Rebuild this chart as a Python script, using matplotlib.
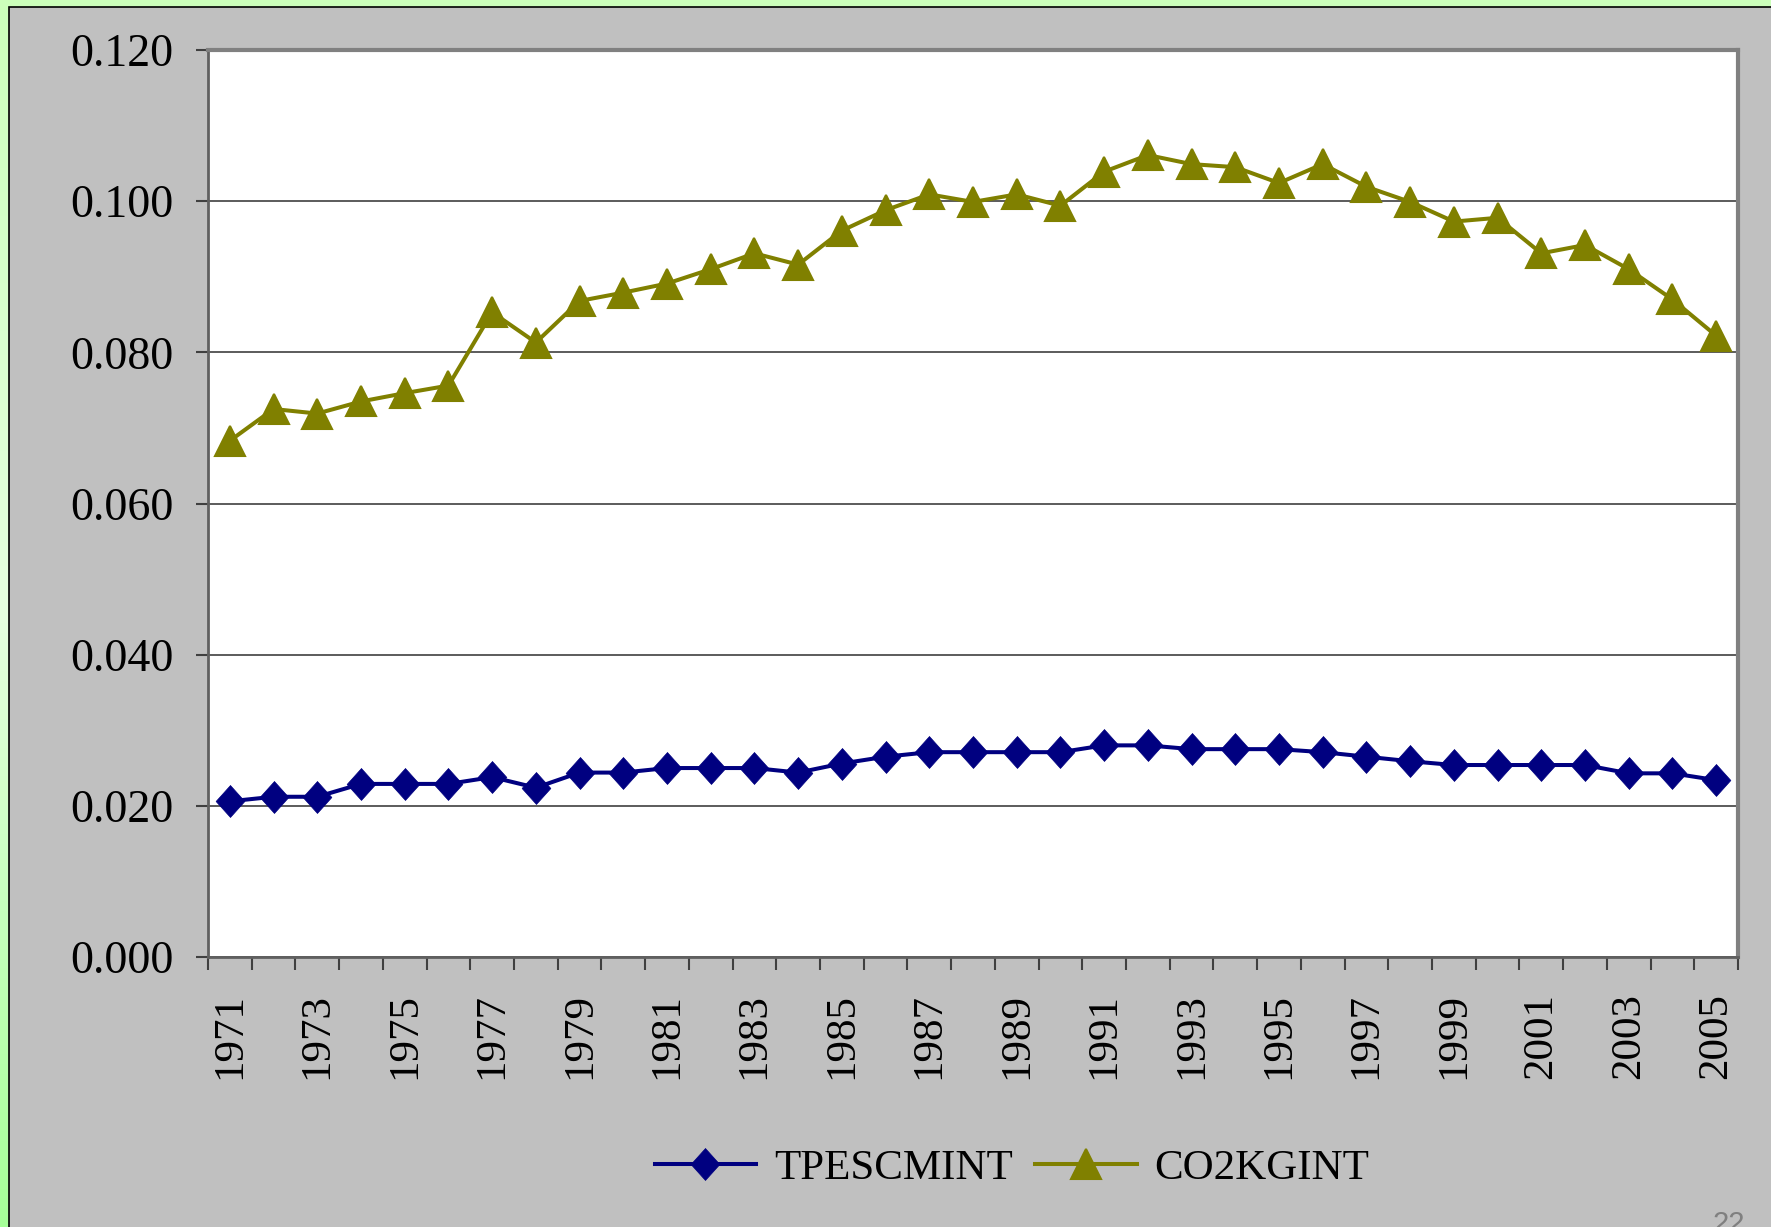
import numpy as np
import matplotlib
matplotlib.use("Agg")
import matplotlib.pyplot as plt
from matplotlib.colors import LinearSegmentedColormap
from matplotlib.patches import Rectangle

years = list(range(1971, 2006))

tpescmint = [0.0206, 0.0212, 0.0212, 0.0229, 0.0229, 0.0229, 0.0238, 0.0224,
             0.0244, 0.0244, 0.0250, 0.0250, 0.0250, 0.0244, 0.0256, 0.0265,
             0.0271, 0.0271, 0.0271, 0.0271, 0.0280, 0.0280, 0.0275, 0.0275,
             0.0275, 0.0271, 0.0265, 0.0259, 0.0254, 0.0254, 0.0254, 0.0254,
             0.0243, 0.0243, 0.0234]

co2kgint = [0.0683, 0.0725, 0.0719, 0.0735, 0.0746, 0.0756, 0.0853, 0.0813,
            0.0868, 0.0879, 0.0891, 0.0910, 0.0931, 0.0916, 0.0961, 0.0988,
            0.1009, 0.0999, 0.1009, 0.0994, 0.1039, 0.1061, 0.1049, 0.1045,
            0.1024, 0.1049, 0.1019, 0.0999, 0.0973, 0.0978, 0.0931, 0.0942,
            0.0910, 0.0870, 0.0822]

series_names = ["TPESCMINT", "CO2KGINT"]
y_ticks = [0.0, 0.02, 0.04, 0.06, 0.08, 0.10, 0.12]

W, H = 1771, 1227
fig = plt.figure(figsize=(W / 100, H / 100), dpi=100)
plt.rcParams["font.family"] = ["Liberation Serif", "DejaVu Serif"]

# green gradient frame behind everything
bg = fig.add_axes([0, 0, 1, 1], zorder=-10)
green = LinearSegmentedColormap.from_list("g", ["#a6ff98", "#e6ffe0", "#ccffbb"])
bg.imshow(np.linspace(0, 1, 256).reshape(-1, 1), aspect="auto", cmap=green,
          origin="lower", extent=[0, 1, 0, 1])
bg.set_xlim(0, 1)
bg.set_ylim(0, 1)
bg.axis("off")
bg.add_patch(Rectangle((9 / W, -0.01), 1.0, 1 - 7 / H + 0.01,
                       facecolor="#c0c0c0", edgecolor="black", lw=1.2))

ax = fig.add_axes([208 / W, 1 - 957 / H, 1530 / W, 907 / H])
ax.set_facecolor("white")

# slightly tall diamond, like the original
diamond = [(0, 1), (0.9, 0), (0, -1), (-0.9, 0), (0, 1)]

x = np.arange(len(years))
ax.plot(x, tpescmint, color="#000080", lw=2.9, marker=diamond, ms=23,
        mec="#000080", mew=0.5, label=series_names[0], zorder=3, clip_on=False)
ax.plot(x, co2kgint, color="#808000", lw=2.9, marker="^", ms=21,
        mec="#808000", mew=1.5, label=series_names[1], zorder=3, clip_on=False)

ax.set_xlim(-0.5, len(years) - 0.5)
ax.set_ylim(0, 0.12)
ax.set_yticks(y_ticks)
ax.set_yticklabels([f"{v:.3f}" for v in y_ticks], fontsize=33)
ax.yaxis.grid(True, color="#404040", lw=1.2)
ax.set_axisbelow(True)

ax.set_xticks(np.arange(-0.5, len(years), 1.0))
ax.set_xticklabels([])
ax.set_xticks(x[::2], minor=True)
ax.set_xticklabels([str(y) for y in years[::2]], minor=True, rotation=90,
                   fontsize=31)
ax.tick_params(axis="x", which="major", length=9, width=1.5, color="#404040")
ax.tick_params(axis="x", which="minor", length=0, pad=26)
ax.tick_params(axis="y", length=9, width=1.5, color="#404040", pad=16)

for side in ["left", "bottom"]:
    ax.spines[side].set_color("#606060")
    ax.spines[side].set_linewidth(2)
for side in ["top", "right"]:
    ax.spines[side].set_color("#808080")
    ax.spines[side].set_linewidth(3)

ax.legend(loc="center", bbox_to_anchor=(1012 / W, 1 - 1168 / H),
          bbox_transform=fig.transFigure, ncol=2, frameon=False, fontsize=31,
          handlelength=2.36, handletextpad=0.42, columnspacing=0.51,
          numpoints=1, markerscale=1.0)

fig.text(1712 / W, -0.004, "22", fontsize=21, color="#808080",
         family="Liberation Sans", ha="left", va="baseline")

fig.savefig("out.png", dpi=100)
